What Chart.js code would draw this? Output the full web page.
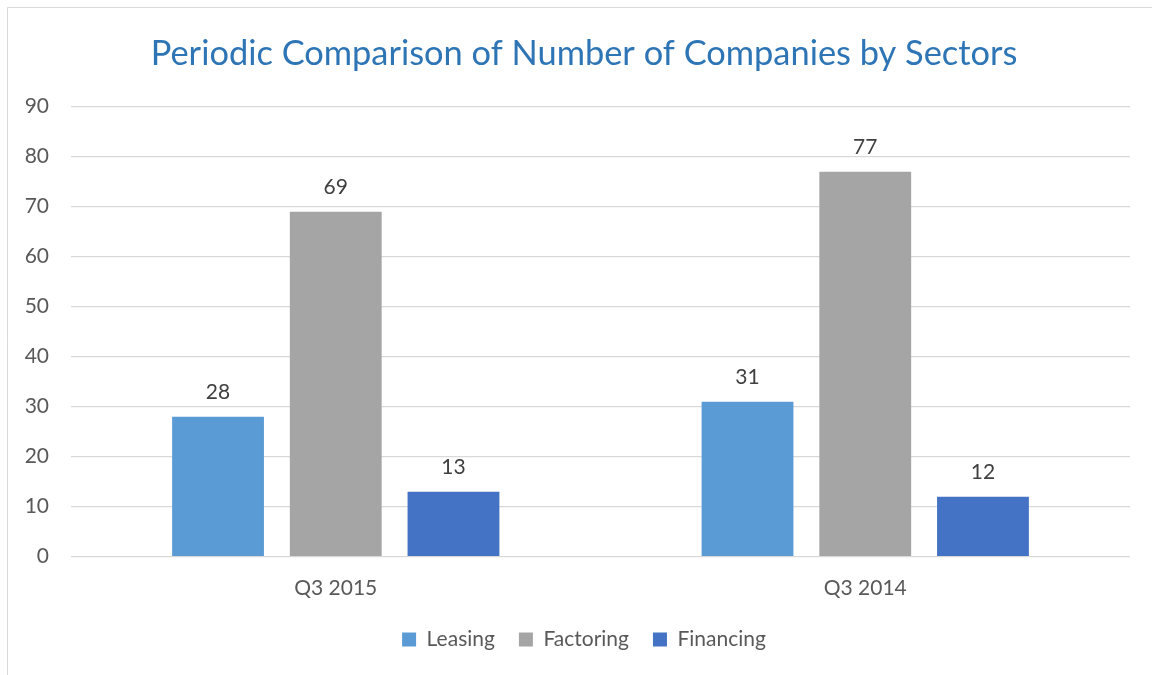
<!DOCTYPE html>
<html><head><meta charset="utf-8">
<script src="https://cdn.jsdelivr.net/npm/chart.js@4"></script>
<style>html,body{margin:0;padding:0;background:#fff;overflow:hidden}#wrap{width:1152px;height:675px;position:relative;overflow:hidden}canvas{display:block}</style>
</head><body><div id="wrap"><canvas id="c" width="1168" height="675"></canvas></div>
<script>
const categories = ['Q3 2015', 'Q3 2014'];
const seriesNames = ['Leasing', 'Factoring', 'Financing'];
const leasing = [28, 31];
const factoring = [69, 77];
const financing = [13, 12];
const seriesColors = ['#5B9BD5', '#A5A5A5', '#4472C4'];
const yMin = 0, yMax = 90, yStep = 10;
const titleText = 'Periodic Comparison of Number of Companies by Sectors';

const FONT = 'Lato, Calibri, Carlito, sans-serif';

const bgPlugin = {
  id: 'bg',
  beforeDraw(chart) {
    const ctx = chart.ctx;
    ctx.save();
    ctx.fillStyle = '#fff';
    ctx.fillRect(0, 0, chart.width, chart.height);
    ctx.strokeStyle = '#D9D9D9';
    ctx.lineWidth = 1;
    ctx.beginPath();
    ctx.moveTo(7.5, chart.height);
    ctx.lineTo(7.5, 7.5);
    ctx.lineTo(chart.width, 7.5);
    ctx.stroke();
    ctx.restore();
  }
};

const labelPlugin = {
  id: 'valueLabels',
  afterDatasetsDraw(chart) {
    const ctx = chart.ctx;
    ctx.save();
    ctx.font = '21px ' + FONT;
    ctx.fillStyle = '#404040';
    ctx.textAlign = 'center';
    ctx.textBaseline = 'alphabetic';
    chart.data.datasets.forEach((ds, i) => {
      const meta = chart.getDatasetMeta(i);
      meta.data.forEach((bar, j) => {
        ctx.fillText(String(ds.data[j]), bar.x, bar.y - 18);
      });
    });
    ctx.restore();
  }
};

const seriesData = [leasing, factoring, financing];

new Chart(document.getElementById('c'), {
  type: 'bar',
  data: {
    labels: categories,
    datasets: seriesNames.map((n, i) => ({
      label: n,
      data: seriesData[i],
      backgroundColor: seriesColors[i],
      borderWidth: 0,
      categoryPercentage: 0.667,
      barPercentage: 0.78,
      yAxisID: 'y'
    }))
  },
  options: {
    responsive: false,
    animation: false,
    devicePixelRatio: 1,
    layout: { padding: { left: 0, right: 0, top: 0, bottom: 15 } },
    plugins: {
      tooltip: { enabled: false },
      title: {
        display: true,
        text: titleText,
        color: '#2E75B6',
        font: { family: FONT, size: 34.4, weight: 'normal', lineHeight: 1.2 },
        padding: { top: 33, bottom: 32.4 }
      },
      legend: {
        display: true,
        position: 'bottom',
        labels: {
          color: '#595959',
          font: { family: FONT, size: 21 },
          boxWidth: 14,
          boxHeight: 14,
          padding: 24
        }
      }
    },
    scales: {
      x: {
        grid: { display: false },
        border: { display: false },
        ticks: { color: '#595959', font: { family: FONT, size: 21 }, padding: 11 },
        afterFit(s) { s.height = 48.3; }
      },
      y: {
        position: 'left',
        min: yMin, max: yMax,
        ticks: { stepSize: yStep, color: '#595959', font: { family: FONT, size: 21 }, padding: 22 },
        grid: { color: '#D9D9D9', lineWidth: 1.3, drawTicks: false },
        border: { display: false },
        afterFit(s) { s.width = 71; }
      },
      spacer: {
        type: 'linear',
        position: 'right',
        display: true,
        min: 0, max: 1,
        grid: { display: false },
        border: { display: false },
        ticks: { display: false },
        afterFit(s) { s.width = 38; }
      }
    }
  },
  plugins: [bgPlugin, labelPlugin]
});
</script></body></html>
